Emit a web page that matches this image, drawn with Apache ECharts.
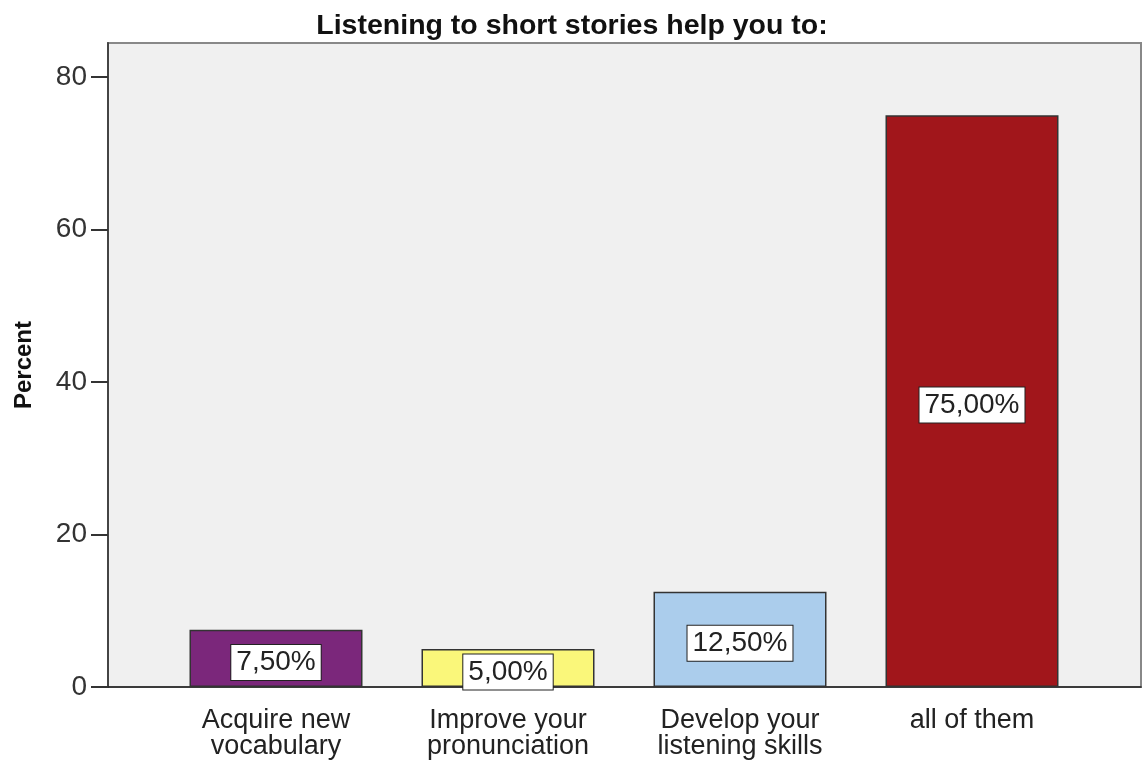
<!DOCTYPE html>
<html>
<head>
<meta charset="utf-8">
<script src="https://cdn.jsdelivr.net/npm/echarts@6/dist/echarts.min.js"></script>
<style>html,body{margin:0;padding:0;background:#fff}#c{width:1144px;height:763px}</style>
</head>
<body>
<div id="c"></div>
<script>
var categories = ['Acquire new\nvocabulary', 'Improve your\npronunciation', 'Develop your\nlistening skills', 'all of them'];
var percents = [7.5, 5.0, 12.5, 75.0];
var barColors = ['#7b277b', '#faf77a', '#abcdec', '#a1161b'];
var yTicks = [0, 20, 40, 60, 80];

var FONT = '"Liberation Sans", Arial, sans-serif';
var chart = echarts.init(document.getElementById('c'));
chart.setOption({
  animation: false,
  backgroundColor: '#ffffff',
  title: {
    text: 'Listening to short stories help you to:',
    left: 'center',
    top: 7,
    textStyle: { fontFamily: FONT, fontSize: 28.5, fontWeight: 'bold', color: '#111' }
  },
  grid: [
    { left: 108, right: 3, top: 43, bottom: 76, show: true, backgroundColor: '#f0f0f0', borderColor: '#888', borderWidth: 2, outerBoundsMode: 'none', containLabel: false },
    { left: 160, right: 56, top: 43, bottom: 76, outerBoundsMode: 'none', containLabel: false }
  ],
  xAxis: [
    { gridIndex: 0, type: 'value', min: 0, max: 1, show: true,
      axisLine: { show: true, lineStyle: { color: '#222', width: 1.5 } },
      axisTick: { show: false }, axisLabel: { show: false }, splitLine: { show: false } },
    {
      gridIndex: 1, type: 'category', data: categories,
      axisLine: { show: false },
      axisTick: { alignWithLabel: true, length: 16, lineStyle: { color: '#333', width: 2 } },
      axisLabel: { fontFamily: FONT, fontSize: 27, color: '#222', margin: 21, lineHeight: 26, interval: 0 }
    }
  ],
  yAxis: [
    { gridIndex: 0, type: 'value', min: 0, max: 1, show: true,
      axisLine: { show: true, lineStyle: { color: '#444', width: 2 } },
      axisTick: { show: false }, axisLabel: { show: false }, splitLine: { show: false } },
    {
      gridIndex: 1, type: 'value', min: 0, max: 84.46, offset: 52,
      name: 'Percent', nameLocation: 'middle', nameRotate: 90, nameGap: 72,
      nameTextStyle: { fontFamily: FONT, fontSize: 24, fontWeight: 'bold', color: '#111' },
      splitLine: { show: false },
      axisLine: { show: false },
      axisTick: { show: true, length: 17, customValues: yTicks, lineStyle: { color: '#333', width: 2 } },
      axisLabel: { fontFamily: FONT, fontSize: 28, color: '#333', margin: 21, customValues: yTicks }
    }
  ],
  series: [{
    type: 'bar',
    xAxisIndex: 1, yAxisIndex: 1,
    barWidth: 173,
    data: percents.map(function (v, i) {
      return { value: v, itemStyle: { color: barColors[i] } };
    }),
    itemStyle: { borderColor: '#333', borderWidth: 1.5 },
    label: {
      show: true, position: 'inside', offset: [0, 4],
      formatter: function (p) { return p.value.toFixed(2).replace('.', ',') + '%'; },
      fontFamily: FONT, fontSize: 28, color: '#222',
      backgroundColor: '#ffffff', borderColor: '#222', borderWidth: 1,
      padding: [4, 5, 3, 5]
    }
  }]
});
</script>
</body>
</html>
